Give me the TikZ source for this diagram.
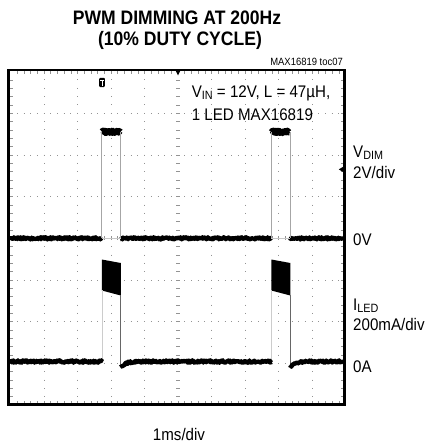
\documentclass[tikz,border=0pt]{standalone}
\usepackage{fontspec}
\setmainfont{Liberation Sans}
\newfontfamily\nar[FakeStretch=0.9]{Liberation Sans}
\newcommand\sbs[1]{\raisebox{-2.5pt}{\fontsize{12}{12}\selectfont #1}}
\begin{document}
\begin{tikzpicture}[x=1pt,y=-1pt,
  lbl/.style={inner sep=0pt, anchor=base west, font=\nar\fontsize{16.8}{18}\selectfont},
  ttl/.style={inner sep=0pt, anchor=base, font=\nar\bfseries\fontsize{19.5}{20}\selectfont},
  griddot/.style={draw=gray!85, line width=0.8pt},
  tick/.style={draw=gray!85, line width=0.6pt},
  trace/.style={draw=black, line width=4.4pt, line join=round},
  edgeline/.style={draw=gray!70, line width=0.7pt}]
\useasboundingbox (0,0) rectangle (426,444);
% grid
\foreach \k in {1,2,3,5,6,7}
  \draw[griddot, dash pattern=on 0.8pt off 5.9pt, dash phase=0.4pt] (10.5,{71.5+41.7*\k}) -- (345.5,{71.5+41.7*\k});
\foreach \k in {1,2,3,4,6,7,8,9}
  \draw[griddot, dash pattern=on 0.8pt off 7.54pt, dash phase=0.4pt] ({10.5+33.5*\k},71.5) -- ({10.5+33.5*\k},405);
% center axes with ticks
\foreach \j in {1,...,39}
  \draw[tick] (176,{71.5+8.34*\j}) -- (180,{71.5+8.34*\j});
\foreach \j in {1,...,49}
  \draw[tick] ({10.5+6.7*\j},236.3) -- ({10.5+6.7*\j},240.3);
% border ticks
\foreach \j in {1,...,49} {
  \draw[tick] ({10.5+6.7*\j},71) -- ++(0,3);
  \draw[tick] ({10.5+6.7*\j},403.5) -- ++(0,-3);
}
\foreach \j in {1,...,39} {
  \draw[tick] (9.5,{71.5+8.34*\j}) -- ++(3,0);
  \draw[tick] (343.5,{71.5+8.34*\j}) -- ++(-3,0);
}
% frame
\draw[line width=2.8pt] (8.7,70) rectangle (344.2,404.3);
% markers
\fill (175.3,70) -- (180.7,70) -- (178,75.5) -- cycle;
\fill (344,166.3) -- (344,172.5) -- (338.8,169.4) -- cycle;
\fill[black, rounded corners=1pt] (99.2,77.8) rectangle (104.8,87);
\draw[white, line width=1pt] (100.4,80) -- (103.6,80) (102,80) -- (102,85.5);
% traces
\pgfmathsetseed{4242}
% V_DIM
\draw[trace] plot[domain=10:101.7, samples=140] (\x,{238.3+1.1*rand});
\draw[trace] plot[domain=120.5:271.2, samples=220] (\x,{238.3+1.1*rand});
\draw[trace] plot[domain=290:343, samples=80] (\x,{238.3+1.1*rand});
\foreach \o in {0,169.5} {
  \draw[trace, line width=6.6pt] plot[domain={102.2+\o}:{120+\o}, samples=30] (\x,{131.8+1.0*rand});
  \draw[edgeline] ({101.7+\o},238.3) -- ({101.7+\o},131.5);
  \draw[edgeline] ({120.5+\o},131.5) -- ({120.5+\o},238.3);
  \draw[draw=gray!45, line width=0.6pt] ({101.7+\o},238.3) -- ({120.5+\o},238.3);
  % I_LED pulse
  \fill ({101.8+\o},259.5) -- ({120.8+\o},263) -- ({120.8+\o},295.5) -- ({101.8+\o},290.5) -- cycle;
  \draw[draw=gray!40, line width=0.7pt] ({102+\o},361.5) -- ({102+\o},290);
  \draw[draw=gray!80!black, line width=0.7pt] ({120.7+\o},295) -- ({120.7+\o},368);
}
% I_LED baseline
\draw[trace] plot[domain=10:102, samples=140] (\x,{361.5+1.2*rand});
\draw[trace] plot[domain=120.7:271.5, samples=220] (\x,{361.5+5.5*exp(-(\x-120.7)/5)+1.2*rand});
\draw[trace] plot[domain=290.2:343, samples=80] (\x,{361.5+5.5*exp(-(\x-290.2)/5)+1.2*rand});
% texts
\node[ttl] (t1) at (177,25) {PWM DIMMING AT 200Hz};
\node[ttl] (t2) at (180,45.5) {(10\% DUTY CYCLE)};
\node[inner sep=0pt, anchor=base east, font=\nar\fontsize{10.5}{11}\selectfont] (toc) at (343,66) {MAX16819 toc07};
\node[lbl] (vin) at (191.7,97) {V\sbs{IN} = 12V, L = 47µH,};
\node[lbl] (led) at (191.7,120) {1 LED MAX16819};
\node[lbl] (vdim) at (353,157) {V\sbs{DIM}};
\node[lbl] (vdiv) at (353,178) {2V/div};
\node[lbl] (zv) at (353,245) {0V};
\node[lbl] (iled) at (353,310) {I\sbs{LED}};
\node[lbl] (idiv) at (353,330) {200mA/div};
\node[lbl] (za) at (353,372) {0A};
\node[lbl, anchor=base] (ms) at (179,440) {1ms/div};
\end{tikzpicture}
\end{document}
